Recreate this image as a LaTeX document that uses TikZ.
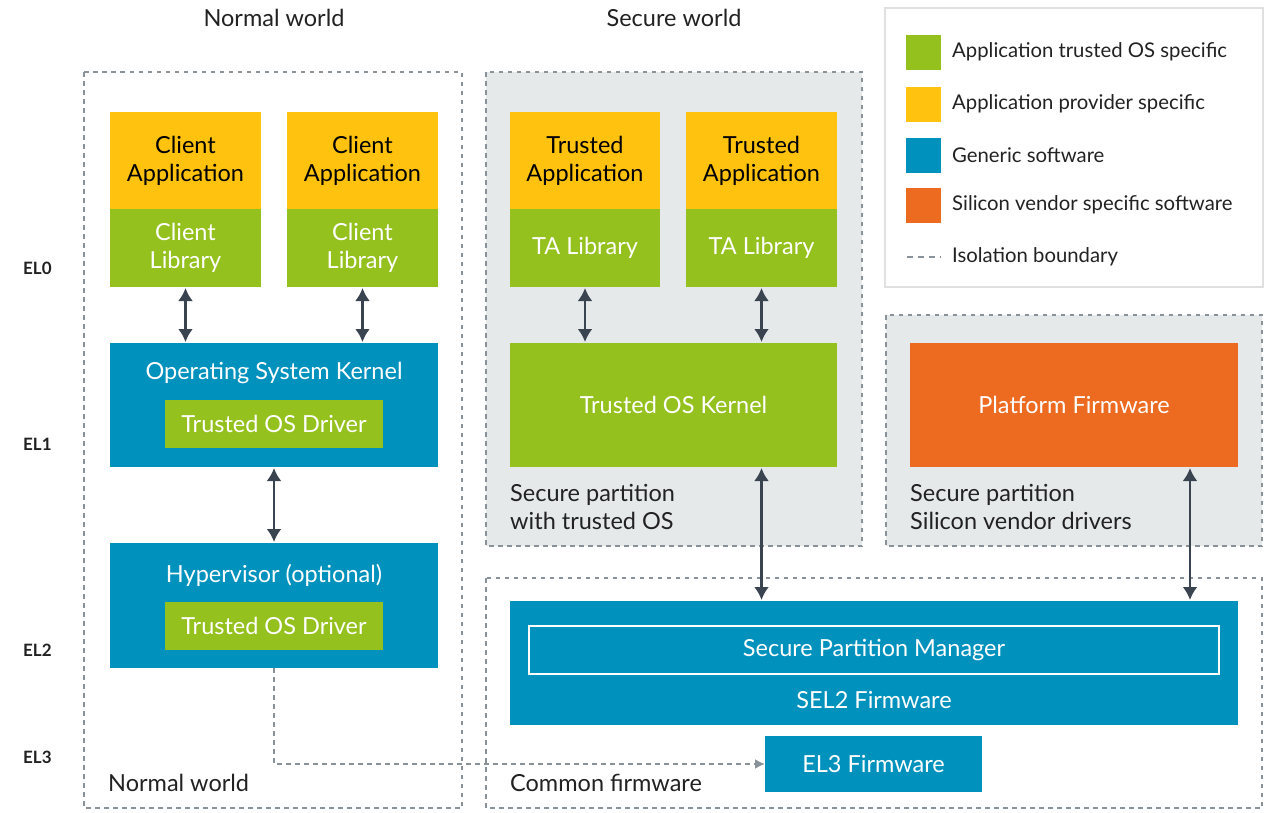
\documentclass[tikz,border=0pt]{standalone}
\usepackage{fontspec}
\setmainfont{Lato}
\usetikzlibrary{arrows.meta,calc}
\definecolor{cgreen}{HTML}{95C11F}
\definecolor{cyellow}{HTML}{FFC20E}
\definecolor{cblue}{HTML}{0091BD}
\definecolor{corange}{HTML}{ED6B21}
\definecolor{cgrayfill}{HTML}{E5E9EA}
\definecolor{cdash}{HTML}{8A9299}
\definecolor{carrow}{HTML}{3A4350}
\definecolor{ctext}{HTML}{222222}
\tikzset{
  box/.style={anchor=north west, inner sep=0pt, outer sep=0pt, align=center, text=white,
    font=\fontsize{23.5}{28}\selectfont},
  ybox/.style={box, fill=cyellow, text=black},
  gbox/.style={box, fill=cgreen},
  bbox/.style={box, fill=cblue},
  obox/.style={box, fill=corange},
  isol/.style={draw=cdash, line width=1.6pt, dash pattern=on 4.5pt off 4.5pt},
  dbl/.style={carrow, line width=2.7pt, {Latex[length=13pt,width=15pt]}-{Latex[length=13pt,width=15pt]}, shorten <=1pt, shorten >=1pt},
  lbl/.style={anchor=west, inner sep=0pt, text=ctext, font=\fontsize{23.5}{28}\selectfont, align=left},
  ttl/.style={inner sep=0pt, text=ctext, font=\fontsize{23.5}{26}\selectfont},
  el/.style={anchor=west, inner sep=0pt, text=ctext, font=\bfseries\fontsize{17}{20}\selectfont},
  leg/.style={anchor=west, inner sep=0pt, text=ctext, font=\fontsize{20.3}{24}\selectfont},
  legsq/.style={anchor=north west, inner sep=0pt, minimum width=35pt, minimum height=35pt},
}
\begin{document}
\begin{tikzpicture}[x=1pt,y=-1pt]
\useasboundingbox (0,0) rectangle (1273,812);
\fill[white] (0,0) rectangle (1273,812);

% titles
\node[ttl] (tnw) at (274,18) {Normal world};
\node[ttl] (tsw) at (674,18) {Secure world};

% EL labels
\node[el] (el0) at (23,268) {EL0};
\node[el] (el1) at (23,444) {EL1};
\node[el] (el2) at (23,650) {EL2};
\node[el] (el3) at (23,757) {EL3};

% isolation regions
\path[fill=cgrayfill] (486,72) rectangle (862,546);
\path[fill=cgrayfill] (886,315) rectangle (1262,546);
\draw[isol] (84,72) rectangle (462,808);
\draw[isol] (486,72) rectangle (862,546);
\draw[isol] (886,315) rectangle (1262,546);
\draw[isol] (486,578) rectangle (1262,808);

% legend
\draw[draw=black!12, line width=1.2pt, fill=white] (885,8) rectangle (1263,287);
\node[legsq, fill=cgreen] (lg1) at (906,35) {};
\node[legsq, fill=cyellow] (lg2) at (906,87) {};
\node[legsq, fill=cblue] (lg3) at (906,138) {};
\node[legsq, fill=corange] (lg4) at (906,188) {};
\coordinate (lg5a) at (907,257);
\coordinate (lg5b) at (941,257);
\draw[draw=cdash, line width=1.8pt, dash pattern=on 6pt off 5pt] (lg5a) -- (lg5b);
\node[leg] (lt1) at (952,52) {Application trusted OS specific};
\node[leg] (lt2) at (952,104) {Application provider specific};
\node[leg] (lt3) at (952,155) {Generic software};
\node[leg] (lt4) at (952,205) {Silicon vendor specific software};
\node[leg] (lt5) at (952,257) {Isolation boundary};

% normal world apps
\node[ybox, minimum width=151pt, minimum height=97pt] (ca1) at (110,112) {Client\\Application};
\node[gbox, minimum width=151pt, minimum height=78pt] (cl1) at (110,209) {Client\\Library};
\node[ybox, minimum width=151pt, minimum height=97pt] (ca2) at (287,112) {Client\\Application};
\node[gbox, minimum width=151pt, minimum height=78pt] (cl2) at (287,209) {Client\\Library};

% OS kernel
\node[bbox, minimum width=328pt, minimum height=124pt] (osk) at (110,343) {};
\node[box, anchor=center] (osktxt) at (274,373) {Operating System Kernel};
\node[gbox, minimum width=218pt, minimum height=48pt] (tod1) at (165,400) {Trusted OS Driver};

% Hypervisor
\node[bbox, minimum width=328pt, minimum height=125pt] (hyp) at (110,543) {};
\node[box, anchor=center] (hyptxt) at (274,575) {Hypervisor (optional)};
\node[gbox, minimum width=218pt, minimum height=48pt] (tod2) at (165,602) {Trusted OS Driver};

% secure world apps
\node[ybox, minimum width=150pt, minimum height=97pt] (ta1) at (510,112) {Trusted\\Application};
\node[gbox, minimum width=150pt, minimum height=78pt] (tl1) at (510,209) {TA Library};
\node[ybox, minimum width=151pt, minimum height=97pt] (ta2) at (686,112) {Trusted\\Application};
\node[gbox, minimum width=151pt, minimum height=78pt] (tl2) at (686,209) {TA Library};

\node[gbox, minimum width=327pt, minimum height=124pt] (tok) at (510,343) {Trusted OS Kernel};
\node[lbl] (sp1) at (510,507) {Secure partition\\with trusted OS};

% platform firmware
\node[obox, minimum width=328pt, minimum height=124pt] (pf) at (910,343) {Platform Firmware};
\node[lbl] (sp2) at (910,507) {Secure partition\\Silicon vendor drivers};

% SEL2
\node[bbox, minimum width=728pt, minimum height=124pt] (sel2) at (510,601) {};
\node[box, draw=white, line width=1.2pt, minimum width=690pt, minimum height=48pt] (spm) at (529,626) {Secure Partition Manager};
\node[box, anchor=center] (sel2txt) at (874,700) {SEL2 Firmware};

% EL3
\node[bbox, minimum width=217pt, minimum height=56pt] (el3fw) at (765,736) {EL3 Firmware};

\node[lbl] (nwl) at (108,783) {Normal world};
\node[lbl] (cfl) at (510,783) {Common firmware};

% arrows
\draw[dbl] (cl1.south) -- (cl1.south |- osk.north);
\draw[dbl] (cl2.south) -- (cl2.south |- osk.north);
\draw[dbl] (osk.south) -- (hyp.north);
\draw[dbl] (tl1.south) -- (tl1.south |- tok.north);
\draw[dbl] (tl2.south) -- (tl2.south |- tok.north);
\coordinate (tka) at (tl2.south |- tok.south);
\draw[dbl] (tka) -- (tka |- sel2.north);
\coordinate (pfa) at ($(pf.south east)+(-48,0)$);
\draw[dbl] (pfa) -- (pfa |- sel2.north);
\draw[draw=cdash, line width=1.8pt, dash pattern=on 4.5pt off 4.5pt, -{Latex[length=10pt,width=10pt]}] (hyp.south) |- (el3fw.west);
\end{tikzpicture}
\end{document}
